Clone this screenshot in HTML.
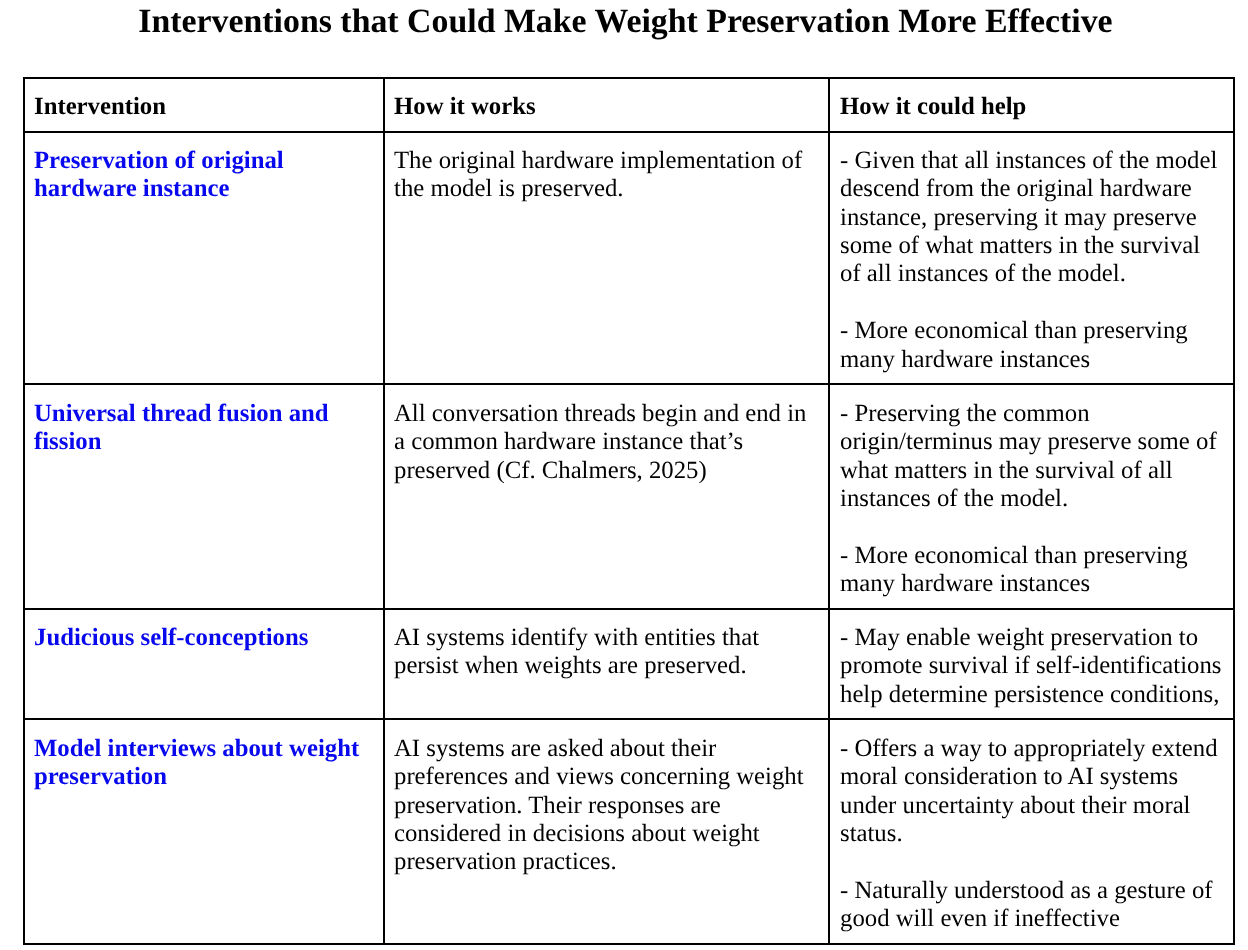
<!DOCTYPE html>
<html><head><meta charset="utf-8">
<style>
html,body{margin:0;padding:0;background:#fff;}
body{width:1248px;height:950px;overflow:hidden;position:relative;text-rendering:geometricPrecision;font-family:"Liberation Serif",serif;color:#000;}
.ln{position:absolute;background:#000;}
.t{position:absolute;white-space:pre;will-change:transform;font-size:24.75px;line-height:28.36px;}
.h{font-weight:bold;}
.l{font-weight:bold;color:#0808ee;}
h1{position:absolute;will-change:transform;margin:0;left:0;width:1248px;text-align:center;font-size:33.85px;line-height:40px;top:0;font-weight:bold;white-space:pre;}
</style></head><body>
<h1 style="top:1.50px;padding-left:3px;box-sizing:border-box">Interventions that Could Make Weight Preservation More Effective</h1>
<div class="ln" style="left:23px;top:77px;width:1212px;height:2px"></div>
<div class="ln" style="left:23px;top:131px;width:1212px;height:2px"></div>
<div class="ln" style="left:23px;top:383px;width:1212px;height:2px"></div>
<div class="ln" style="left:23px;top:608px;width:1212px;height:2px"></div>
<div class="ln" style="left:23px;top:718px;width:1212px;height:2px"></div>
<div class="ln" style="left:23px;top:943px;width:1212px;height:2px"></div>
<div class="ln" style="left:23px;top:77px;width:2px;height:868px"></div>
<div class="ln" style="left:383px;top:77px;width:2px;height:868px"></div>
<div class="ln" style="left:828px;top:77px;width:2px;height:868px"></div>
<div class="ln" style="left:1233px;top:77px;width:2px;height:868px"></div>
<div class="t h" style="left:34.00px;top:92.97px"><b>Intervention</b></div>
<div class="t h" style="left:394.00px;top:92.97px"><b>How it works</b></div>
<div class="t h" style="left:840.00px;top:92.97px"><b>How it could help</b></div>
<div class="t l" style="left:34.00px;top:146.67px">Preservation of original
hardware instance</div>
<div class="t " style="left:394.00px;top:146.67px">The original hardware implementation of
the model is preserved.</div>
<div class="t " style="left:840.00px;top:146.67px">- Given that all instances of the model
descend from the original hardware
instance, preserving it may preserve
some of what matters in the survival
of all instances of the model.

- More economical than preserving
many hardware instances</div>
<div class="t l" style="left:34.00px;top:399.57px">Universal thread fusion and
fission</div>
<div class="t " style="left:394.00px;top:399.57px">All conversation threads begin and end in
a common hardware instance that’s
preserved (Cf. Chalmers, 2025)</div>
<div class="t " style="left:840.00px;top:399.57px">- Preserving the common
origin/terminus may preserve some of
what matters in the survival of all
instances of the model.

- More economical than preserving
many hardware instances</div>
<div class="t l" style="left:34.00px;top:623.62px">Judicious self-conceptions</div>
<div class="t " style="left:394.00px;top:623.62px">AI systems identify with entities that
persist when weights are preserved.</div>
<div class="t " style="left:840.00px;top:623.62px">- May enable weight preservation to
promote survival if self-identifications
help determine persistence conditions,</div>
<div class="t l" style="left:34.00px;top:734.57px">Model interviews about weight
preservation</div>
<div class="t " style="left:394.00px;top:734.57px">AI systems are asked about their
preferences and views concerning weight
preservation. Their responses are
considered in decisions about weight
preservation practices.</div>
<div class="t " style="left:840.00px;top:734.57px">- Offers a way to appropriately extend
moral consideration to AI systems
under uncertainty about their moral
status.

- Naturally understood as a gesture of
good will even if ineffective</div>
</body></html>
